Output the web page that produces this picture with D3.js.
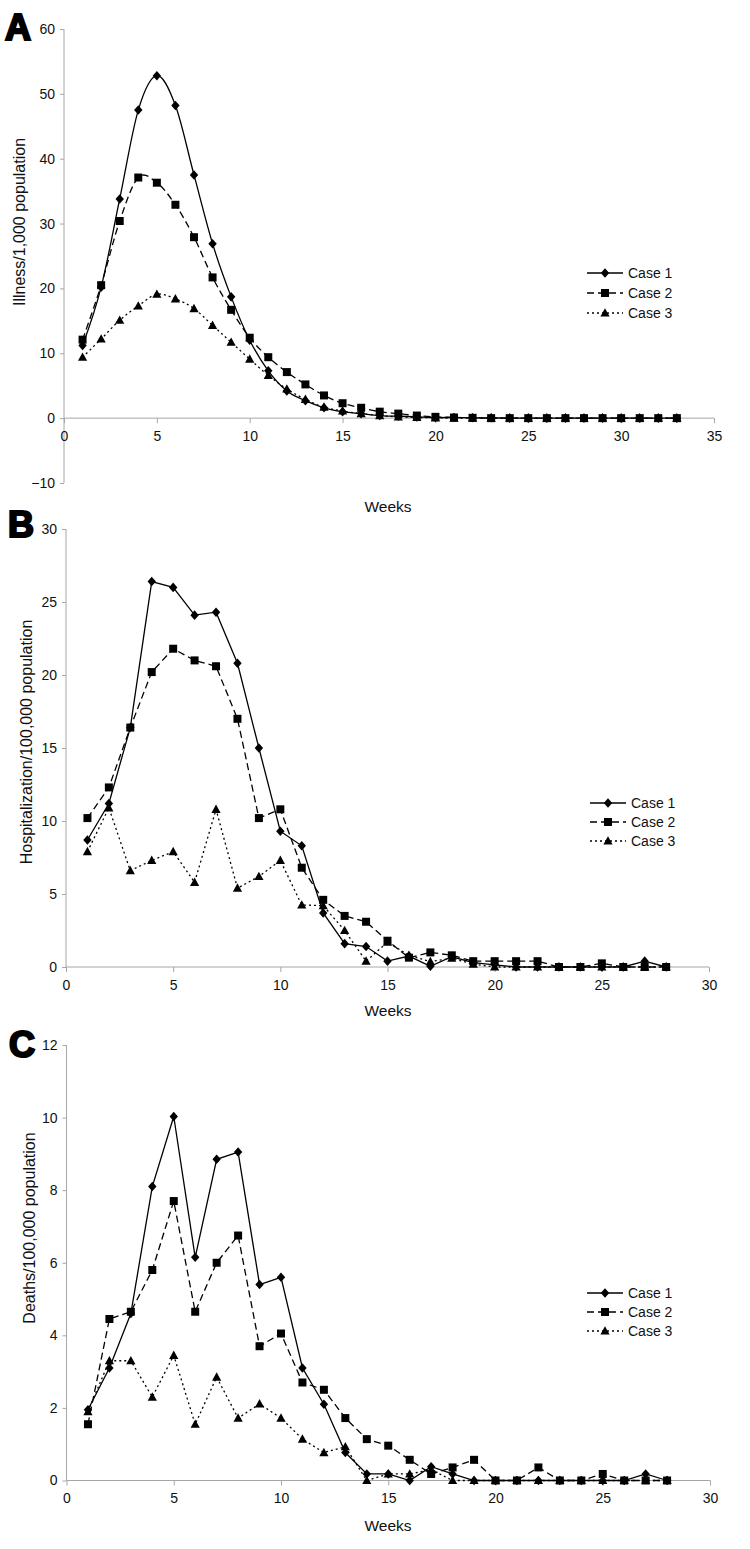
<!DOCTYPE html>
<html><head><meta charset="utf-8">
<script src="https://cdn.jsdelivr.net/npm/d3@7"></script>
<style>body{margin:0;background:#fff}svg text{font-family:"Liberation Sans",Arial,sans-serif}</style>
</head><body>
<svg id="c" width="750" height="1549"></svg>
<script>
// ---------- Data ----------
const seriesNames = ["Case 1", "Case 2", "Case 3"];

const weeksA = d3.range(1, 34);
const illnessCase1 = [11.2,20.2,33.8,47.5,52.8,48.2,37.5,26.9,18.7,12.0,7.3,4.2,2.7,1.6,1.0,0.7,0.4,0.3,0.2,0.1,0.1,0.05,0.05,0,0,0,0,0,0,0,0,0,0];
const illnessCase2 = [12.1,20.5,30.4,37.1,36.3,32.9,27.9,21.7,16.7,12.4,9.4,7.1,5.2,3.5,2.3,1.6,1.0,0.7,0.4,0.2,0.1,0.05,0,0,0,0,0,0,0,0,0,0,0];
const illnessCase3 = [9.4,12.2,15.1,17.3,19.1,18.4,16.9,14.3,11.7,9.1,6.6,4.5,2.9,1.7,1.1,0.7,0.4,0.2,0.1,0.05,0,0,0,0,0,0,0,0,0,0,0,0,0];

const weeksB = d3.range(1, 29);
const hospCase1 = [8.7,11.2,16.4,26.4,26.0,24.1,24.3,20.8,15.0,9.3,8.3,3.7,1.6,1.4,0.4,0.75,0.05,0.7,0.3,0.15,0,0,0,0,0,0,0.4,0];
const hospCase2 = [10.2,12.3,16.4,20.2,21.8,21.0,20.6,17.0,10.2,10.8,6.8,4.6,3.5,3.1,1.8,0.64,1.0,0.8,0.4,0.4,0.4,0.4,0,0,0.25,0,0,0];
const hospCase3 = [7.9,10.9,6.6,7.3,7.9,5.8,10.8,5.4,6.2,7.3,4.25,4.2,2.5,0.4,1.7,0.8,0.37,0.6,0.2,0,0,0,0,0,0,0,0,0];

const weeksC = d3.range(1, 29);
const deathCase1 = [1.95,3.1,4.6,8.1,10.03,6.15,8.85,9.05,5.4,5.6,3.1,2.1,0.77,0.18,0.18,0,0.38,0.18,0,0,0,0,0,0,0,0,0.18,0];
const deathCase2 = [1.55,4.45,4.65,5.8,7.7,4.65,6.0,6.75,3.7,4.05,2.7,2.5,1.72,1.14,0.96,0.57,0.18,0.36,0.57,0,0,0.36,0,0,0.18,0,0,0];
const deathCase3 = [1.9,3.3,3.3,2.3,3.45,1.55,2.85,1.72,2.11,1.72,1.14,0.77,0.93,0,0.18,0.18,0.3,0,0,0,0,0,0,0,0,0,0,0];

const ticksA_y = [-10,0,10,20,30,40,50,60];
const ticksA_x = [0,5,10,15,20,25,30,35];
const ticksB_y = [0,5,10,15,20,25,30];
const ticksB_x = [0,5,10,15,20,25,30];
const ticksC_y = [0,2,4,6,8,10,12];
const ticksC_x = [0,5,10,15,20,25,30];

// ---------- Drawing ----------
const svg = d3.select("#c");
const axisColor = "#a6a6a6";
const styles = [
  {dash: null, marker: "diamond"},
  {dash: "7,4", marker: "square"},
  {dash: "2,3", marker: "triangle"}
];

function markerPath(type) {
  if (type === "diamond") return "M0,-4.8L4.2,0L0,4.8L-4.2,0Z";
  if (type === "square") return "M-4,-4H4V4H-4Z";
  return "M0,-4.8L4.6,3.6H-4.6Z";
}

function panel(cfg) {
  const g = svg.append("g");
  const x = d3.scaleLinear().domain(cfg.xDomain).range([cfg.x0, cfg.x1]);
  const y = d3.scaleLinear().domain(cfg.yDomain).range([cfg.yBottom, cfg.yTop]);

  const ya = g.append("g").attr("transform", `translate(${cfg.x0},0)`)
    .call(d3.axisLeft(y).tickValues(cfg.yTicks).tickSize(4).tickPadding(5).tickFormat(d3.format("d")));
  ya.select(".domain").attr("stroke", axisColor).attr("d", `M-0,${cfg.yBottom}V${cfg.yTop}`);
  ya.selectAll(".tick line").attr("stroke", axisColor);
  ya.selectAll(".tick text").attr("font-size", 14).attr("fill", "#111").attr("font-family", "Liberation Sans, Arial, sans-serif");

  const xa = g.append("g").attr("transform", `translate(0,${y(0)})`)
    .call(d3.axisBottom(x).tickValues(cfg.xTicks).tickSize(5).tickPadding(8).tickFormat(d3.format("d")));
  xa.select(".domain").attr("stroke", axisColor).attr("d", `M${cfg.x0},0H${cfg.x1}`);
  xa.selectAll(".tick line").attr("stroke", axisColor);
  xa.selectAll(".tick text").attr("font-size", 14).attr("fill", "#111").attr("font-family", "Liberation Sans, Arial, sans-serif");

  const line = d3.line().x(d => x(d[0])).y(d => y(d[1]));
  if (cfg.smooth) line.curve(d3.curveCardinal.tension(0));
  cfg.series.forEach((vals, i) => {
    const pts = cfg.weeks.map((w, j) => [w, vals[j]]);
    g.append("path").attr("d", line(pts)).attr("fill", "none").attr("stroke", "#000")
      .attr("stroke-width", 1.3).attr("stroke-dasharray", styles[i].dash);
  });
  [2, 0, 1].forEach(i => {
    const vals = cfg.series[i];
    g.append("g").selectAll("path").data(cfg.weeks.map((w, j) => [w, vals[j]])).join("path")
      .attr("d", markerPath(styles[i].marker))
      .attr("transform", d => `translate(${x(d[0])},${y(d[1])})`)
      .attr("fill", "#000");
  });

  g.append("text").attr("x", cfg.xLabelX).attr("y", cfg.xLabelY).attr("text-anchor", "middle")
    .attr("font-size", 15.5).attr("fill", "#111").text("Weeks");
  g.append("text").attr("transform", `translate(${cfg.yLabelX},${cfg.yLabelY}) rotate(-90)`)
    .attr("text-anchor", "middle").attr("font-size", 16).attr("fill", "#111").text(cfg.yLabel);

  seriesNames.forEach((name, i) => {
    const ly = cfg.legY + i * cfg.legDy;
    g.append("line").attr("x1", cfg.legX).attr("x2", cfg.legX + 36).attr("y1", ly).attr("y2", ly)
      .attr("stroke", "#000").attr("stroke-width", 1.3).attr("stroke-dasharray", styles[i].dash);
    g.append("path").attr("d", markerPath(styles[i].marker)).attr("transform", `translate(${cfg.legX + 18},${ly})`).attr("fill", "#000");
    g.append("text").attr("x", cfg.legX + 41).attr("y", ly + 5).attr("font-size", 14).attr("fill", "#111").text(name);
  });

  g.append("text").attr("x", cfg.letterX).attr("y", cfg.letterY).attr("font-size", 36)
    .attr("font-family", "DejaVu Sans").attr("font-weight", "bold")
    .attr("fill", "#000").attr("stroke", "#000").attr("stroke-width", 2.2).text(cfg.letter);
}

panel({
  letter: "A", letterX: 5, letterY: 40,
  weeks: weeksA, series: [illnessCase1, illnessCase2, illnessCase3], smooth: true,
  xDomain: [0, 35], x0: 64, x1: 714, xTicks: ticksA_x,
  yDomain: [-10, 60], yBottom: 483, yTop: 29, yTicks: ticksA_y,
  xLabelX: 388, xLabelY: 512, yLabelX: 25, yLabelY: 222, yLabel: "Illness/1,000 population",
  legX: 587, legY: 273, legDy: 20
});

panel({
  letter: "B", letterX: 8, letterY: 537,
  weeks: weeksB, series: [hospCase1, hospCase2, hospCase3], smooth: false,
  xDomain: [0, 30], x0: 66, x1: 709, xTicks: ticksB_x,
  yDomain: [0, 30], yBottom: 967, yTop: 529, yTicks: ticksB_y,
  xLabelX: 388, xLabelY: 1016, yLabelX: 32, yLabelY: 742, yLabel: "Hospitalization/100,000 population",
  legX: 590, legY: 803, legDy: 19
});

panel({
  letter: "C", letterX: 9, letterY: 1057,
  weeks: weeksC, series: [deathCase1, deathCase2, deathCase3], smooth: false,
  xDomain: [0, 30], x0: 66.5, x1: 710, xTicks: ticksC_x,
  yDomain: [0, 12], yBottom: 1480.5, yTop: 1045, yTicks: ticksC_y,
  xLabelX: 388, xLabelY: 1531, yLabelX: 35, yLabelY: 1228, yLabel: "Deaths/100,000 population",
  legX: 587, legY: 1293, legDy: 19
});
</script>
</body></html>
